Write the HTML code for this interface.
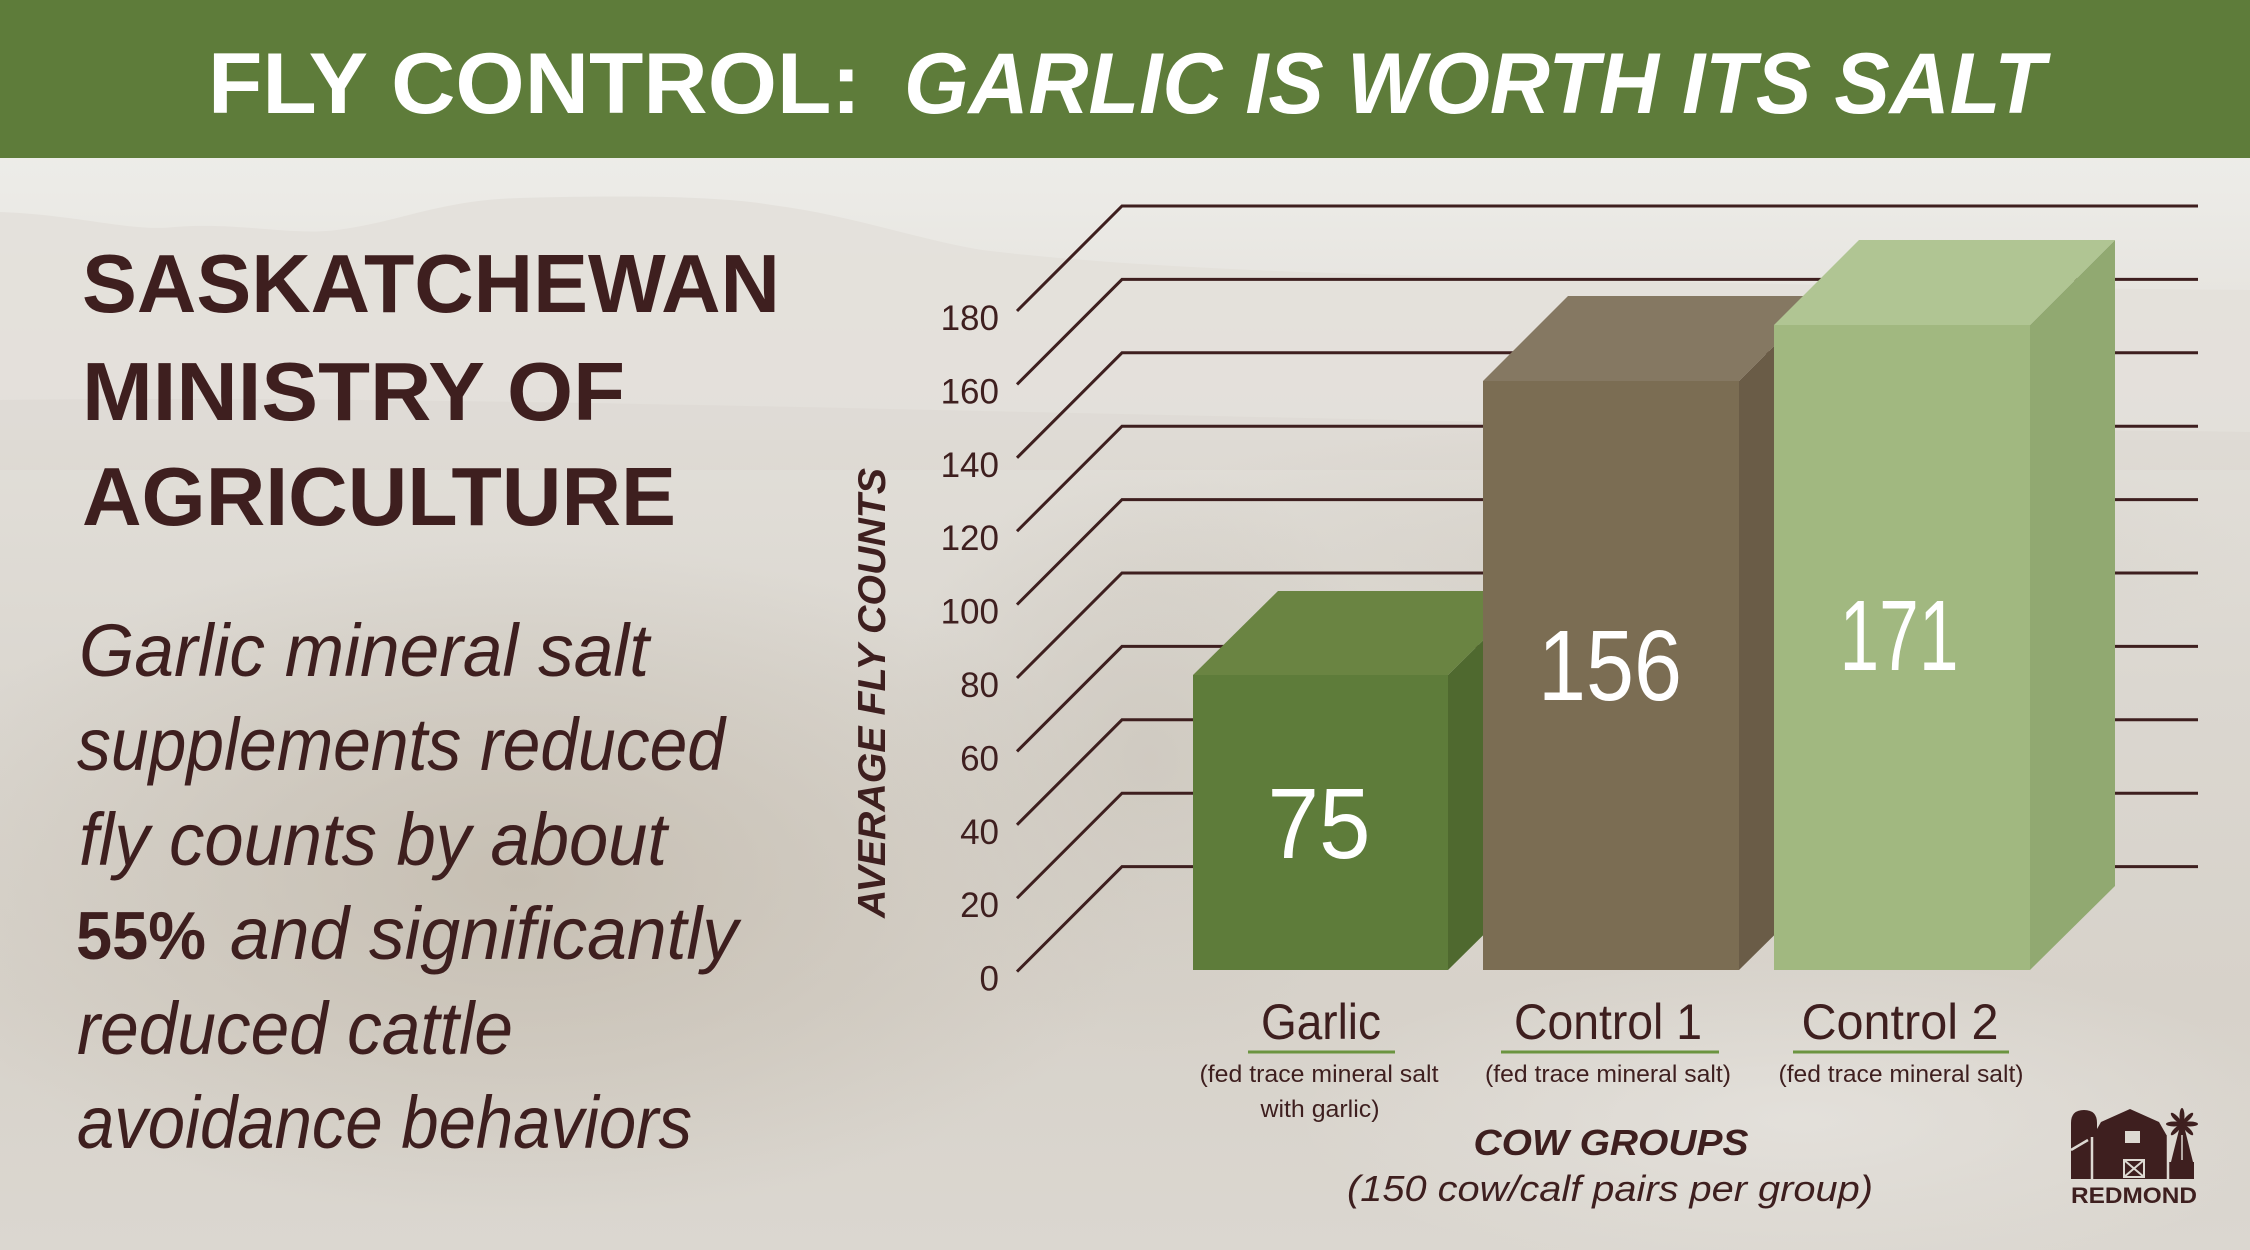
<!DOCTYPE html>
<html>
<head>
<meta charset="utf-8">
<style>
  html,body{margin:0;padding:0;background:#e3e0da;}
  svg{display:block;}
  text{font-family:"Liberation Sans", sans-serif;}
</style>
</head>
<body>
<svg width="2250" height="1250" viewBox="0 0 2250 1250" xmlns="http://www.w3.org/2000/svg">
  <defs>
    <linearGradient id="bg" x1="0" y1="0" x2="0" y2="1">
      <stop offset="0" stop-color="#f1f0ed"/>
      <stop offset="0.15" stop-color="#ecebe7"/>
      <stop offset="0.3" stop-color="#e3e0da"/>
      <stop offset="0.55" stop-color="#dbd7d0"/>
      <stop offset="0.8" stop-color="#d7d2ca"/>
      <stop offset="1" stop-color="#dbd7d0"/>
    </linearGradient>
    <radialGradient id="darkL" cx="0.5" cy="0.5" r="0.5">
      <stop offset="0" stop-color="#c3bbae" stop-opacity="0.85"/>
      <stop offset="1" stop-color="#c3bbae" stop-opacity="0"/>
    </radialGradient>
    <radialGradient id="darkM" cx="0.5" cy="0.5" r="0.5">
      <stop offset="0" stop-color="#cbc5bb" stop-opacity="0.7"/>
      <stop offset="1" stop-color="#cbc5bb" stop-opacity="0"/>
    </radialGradient>
    <radialGradient id="lightR" cx="0.5" cy="0.5" r="0.5">
      <stop offset="0" stop-color="#e6e3de" stop-opacity="0.8"/>
      <stop offset="1" stop-color="#e6e3de" stop-opacity="0"/>
    </radialGradient>
  </defs>

  <!-- background -->
  <rect x="0" y="0" width="2250" height="1250" fill="url(#bg)"/>
  <!-- hills -->
  <path d="M0,212 C80,215 130,232 175,227 C240,222 290,236 337,230 C400,222 440,200 520,198 C620,195 720,196 772,205 C850,215 920,240 982,250 C1080,262 1200,268 1300,272 C1500,278 1700,285 2250,290 L2250,440 L0,440 Z" fill="#e3e0da" opacity="0.9"/>
  <path d="M0,400 C400,395 900,410 1400,420 C1800,428 2100,430 2250,432 L2250,470 L0,470 Z" fill="#d6d2ca" opacity="0.3"/>
  <!-- darker fence / lower-left area -->
  <ellipse cx="520" cy="880" rx="640" ry="340" fill="url(#darkL)"/>
  <ellipse cx="1150" cy="760" rx="260" ry="300" fill="url(#darkM)"/>
  <ellipse cx="1800" cy="1120" rx="500" ry="160" fill="url(#lightR)"/>
  <ellipse cx="1650" cy="560" rx="600" ry="140" fill="url(#darkM)" opacity="0.6"/>

  <!-- header -->
  <rect x="0" y="0" width="2250" height="158" fill="#5e7c3a"/>
  <text x="208" y="113" font-size="86" font-weight="bold" fill="#ffffff" textLength="653" lengthAdjust="spacingAndGlyphs">FLY CONTROL:</text>
  <text x="904" y="113" font-size="86" font-weight="bold" font-style="italic" fill="#ffffff" textLength="1141" lengthAdjust="spacingAndGlyphs">GARLIC IS WORTH ITS SALT</text>

  <!-- left heading -->
  <g fill="#3e1f1f" font-weight="bold" font-size="83">
    <text x="82" y="312" textLength="698" lengthAdjust="spacingAndGlyphs">SASKATCHEWAN</text>
    <text x="82" y="420" textLength="543" lengthAdjust="spacingAndGlyphs">MINISTRY OF</text>
    <text x="82" y="525" textLength="594" lengthAdjust="spacingAndGlyphs">AGRICULTURE</text>
  </g>

  <!-- paragraph -->
  <g fill="#3e1f1f" font-size="74" font-style="italic">
    <text x="79" y="676" textLength="570" lengthAdjust="spacingAndGlyphs">Garlic mineral salt</text>
    <text x="77" y="770" textLength="648" lengthAdjust="spacingAndGlyphs">supplements reduced</text>
    <text x="79" y="865" textLength="588" lengthAdjust="spacingAndGlyphs">fly counts by about</text>
    <text x="76" y="959" font-style="normal" font-weight="bold" font-size="68" textLength="130" lengthAdjust="spacingAndGlyphs">55%</text>
    <text x="230" y="959" textLength="508" lengthAdjust="spacingAndGlyphs">and significantly</text>
    <text x="77" y="1054" textLength="436" lengthAdjust="spacingAndGlyphs">reduced cattle</text>
    <text x="77" y="1148" textLength="615" lengthAdjust="spacingAndGlyphs">avoidance behaviors</text>
  </g>

  <!-- grid lines -->
  <g stroke="#3e1f1f" stroke-width="3" fill="none">
    <polyline points="1017,311 1122,206 2198,206"/>
    <polyline points="1017,384.4 1122,279.4 2198,279.4"/>
    <polyline points="1017,457.8 1122,352.8 2198,352.8"/>
    <polyline points="1017,531.2 1122,426.2 2198,426.2"/>
    <polyline points="1017,604.6 1122,499.6 2198,499.6"/>
    <polyline points="1017,678 1122,573 2198,573"/>
    <polyline points="1017,751.4 1122,646.4 2198,646.4"/>
    <polyline points="1017,824.8 1122,719.8 2198,719.8"/>
    <polyline points="1017,898.2 1122,793.2 2198,793.2"/>
    <polyline points="1017,971.6 1122,866.6 2198,866.6"/>
  </g>

  <!-- tick labels -->
  <g fill="#3e1f1f" font-size="35" text-anchor="end">
    <text x="999" y="330">180</text>
    <text x="999" y="403.4">160</text>
    <text x="999" y="476.8">140</text>
    <text x="999" y="550.2">120</text>
    <text x="999" y="623.6">100</text>
    <text x="999" y="697">80</text>
    <text x="999" y="770.4">60</text>
    <text x="999" y="843.8">40</text>
    <text x="999" y="917.2">20</text>
    <text x="999" y="990.6">0</text>
  </g>

  <!-- y axis title -->
  <text transform="translate(885,693) rotate(-90)" text-anchor="middle" font-size="39" font-weight="bold" font-style="italic" fill="#3e1f1f" textLength="450" lengthAdjust="spacingAndGlyphs">AVERAGE FLY COUNTS</text>

  <!-- bars -->
  <!-- Garlic -->
  <polygon points="1448,675 1533,591 1533,886 1448,970" fill="#4f692f"/>
  <polygon points="1193,675 1278,591 1533,591 1448,675" fill="#6a8442"/>
  <rect x="1193" y="675" width="255" height="295" fill="#5e7c3a"/>
  <!-- Control 1 -->
  <polygon points="1739,381 1824,296 1824,886 1739,970" fill="#6a5c47"/>
  <polygon points="1483,381 1568,296 1824,296 1739,381" fill="#857862"/>
  <rect x="1483" y="381" width="256" height="589" fill="#7b6d53"/>
  <!-- Control 2 -->
  <polygon points="2030,325 2115,240 2115,886 2030,970" fill="#91a971"/>
  <polygon points="1774,325 1859,240 2115,240 2030,325" fill="#b0c593"/>
  <rect x="1774" y="325" width="256" height="645" fill="#a1b880"/>

  <!-- values -->
  <g fill="#ffffff" font-size="100" text-anchor="middle">
    <text x="1319" y="858" textLength="103" lengthAdjust="spacingAndGlyphs">75</text>
    <text x="1610" y="700" textLength="144" lengthAdjust="spacingAndGlyphs">156</text>
    <text x="1899" y="670" textLength="119" lengthAdjust="spacingAndGlyphs">171</text>
  </g>

  <!-- x labels -->
  <g fill="#3e1f1f" text-anchor="middle">
    <text x="1321" y="1039" font-size="50" textLength="120" lengthAdjust="spacingAndGlyphs">Garlic</text>
    <text x="1608" y="1039" font-size="50" textLength="188" lengthAdjust="spacingAndGlyphs">Control 1</text>
    <text x="1900" y="1039" font-size="50" textLength="197" lengthAdjust="spacingAndGlyphs">Control 2</text>
    <text x="1319" y="1082" font-size="24" textLength="239" lengthAdjust="spacingAndGlyphs">(fed trace mineral salt</text>
    <text x="1320" y="1117" font-size="24" textLength="119" lengthAdjust="spacingAndGlyphs">with garlic)</text>
    <text x="1608" y="1082" font-size="24" textLength="246" lengthAdjust="spacingAndGlyphs">(fed trace mineral salt)</text>
    <text x="1901" y="1082" font-size="24" textLength="245" lengthAdjust="spacingAndGlyphs">(fed trace mineral salt)</text>
    <text x="1611" y="1155" font-size="36" font-weight="bold" font-style="italic" textLength="275" lengthAdjust="spacingAndGlyphs">COW GROUPS</text>
    <text x="1610" y="1201" font-size="36" font-style="italic" textLength="526" lengthAdjust="spacingAndGlyphs">(150 cow/calf pairs per group)</text>
  </g>
  <g stroke="#6b9440" stroke-width="3">
    <line x1="1248" y1="1052" x2="1395" y2="1052"/>
    <line x1="1501" y1="1052" x2="1719" y2="1052"/>
    <line x1="1793" y1="1052" x2="2009" y2="1052"/>
  </g>

  <!-- Redmond logo -->
  <g fill="#3e1f1f">
    <path d="M2071,1179 L2071,1123 Q2071,1110 2084,1110 Q2097,1110 2097,1123 L2097,1179 Z"/>
    <polygon points="2093,1179 2093,1136 2101,1122 2130,1109 2159,1122 2167,1136 2167,1179"/>
    <rect x="2169" y="1162" width="25" height="17"/>
    <polygon points="2180,1126 2184,1126 2193,1162 2171,1162"/>
    <g transform="translate(2182,1124)">
      <ellipse cx="0" cy="-8" rx="2.5" ry="8"/>
      <ellipse cx="0" cy="8" rx="2.5" ry="8"/>
      <ellipse cx="-8" cy="0" rx="8" ry="2.5"/>
      <ellipse cx="8" cy="0" rx="8" ry="2.5"/>
      <ellipse cx="-6" cy="-6" rx="2.2" ry="7" transform="rotate(-45 -6 -6)"/>
      <ellipse cx="6" cy="-6" rx="2.2" ry="7" transform="rotate(45 6 -6)"/>
      <ellipse cx="-6" cy="6" rx="2.2" ry="7" transform="rotate(45 -6 6)"/>
      <ellipse cx="6" cy="6" rx="2.2" ry="7" transform="rotate(-45 6 6)"/>
    </g>
    <text x="2134" y="1203" font-size="22" font-weight="bold" text-anchor="middle" textLength="126" lengthAdjust="spacingAndGlyphs">REDMOND</text>
  </g>
  <g stroke="#ddd9d2" stroke-width="2.5" fill="none">
    <line x1="2092" y1="1137" x2="2092" y2="1179"/>
    <line x1="2071" y1="1150" x2="2088" y2="1140"/>
    <line x1="2168" y1="1136" x2="2168" y2="1179"/>
    <rect x="2124" y="1160" width="20" height="17" stroke-width="2"/>
    <line x1="2124" y1="1160" x2="2144" y2="1177" stroke-width="2"/>
    <line x1="2144" y1="1160" x2="2124" y2="1177" stroke-width="2"/>
    <line x1="2182" y1="1135" x2="2182" y2="1160" stroke-width="1.5"/>
  </g>
  <rect x="2125" y="1131" width="15" height="12" fill="#ddd9d2"/>
</svg>
</body>
</html>
